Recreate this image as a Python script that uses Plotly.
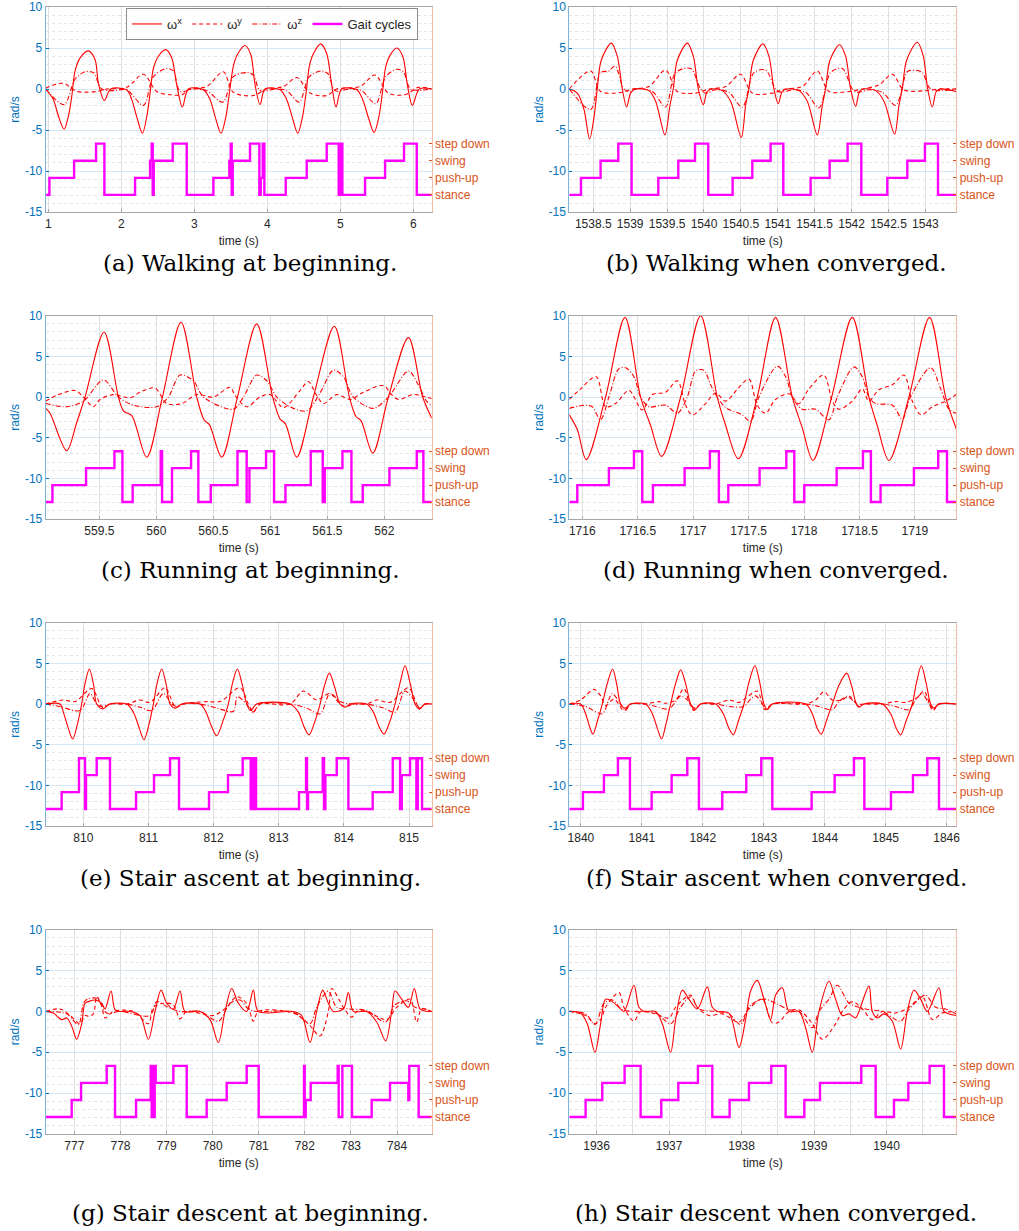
import plotly.graph_objects as go

# ---------------- data ----------------
y_ticks = [-15, -10, -5, 0, 5, 10]
gait_levels = [1, 2, 3, 4]
gait_names = ["stance", "push-up", "swing", "step down"]
captions = ["(a) Walking at beginning.", "(b) Walking when converged.",
            "(c) Running at beginning.", "(d) Running when converged.",
            "(e) Stair ascent at beginning.", "(f) Stair ascent when converged.",
            "(g) Stair descent at beginning.", "(h) Stair descent when converged."]

# (a) walking, beginning
a_t_wx = [0.963, 1.068, 1.137, 1.215, 1.274, 1.320, 1.365, 1.434, 1.548, 1.639, 1.685, 1.767, 1.854, 2.073,
          2.142, 2.210, 2.288, 2.347, 2.393, 2.438, 2.507, 2.607, 2.689, 2.758, 2.836, 2.918, 3.123,
          3.215, 3.288, 3.365, 3.429, 3.479, 3.534, 3.589, 3.694, 3.772, 3.831, 3.900, 3.968, 4.174,
          4.265, 4.342, 4.416, 4.479, 4.530, 4.575, 4.630, 4.731, 4.813, 4.881, 4.941, 5.018, 5.224,
          5.306, 5.384, 5.461, 5.525, 5.575, 5.621, 5.680, 5.772, 5.854, 5.918, 5.986, 6.082, 6.251]
a_wx = [0, -1.3, -3.3, -4.9, -3.3, -0.9, 2.2, 3.8, 4.65, 3.6, 0.7, -1.4, 0, -0.1,
        -1.3, -3.4, -5.4, -3.4, -0.5, 2.5, 4.0, 4.8, 3.8, 0.5, -2.2, 0, -0.1,
        -1.3, -3.5, -5.4, -3.5, -0.5, 2.8, 4.2, 5.3, 4.2, 0.5, -1.9, 0, -0.1,
        -1.3, -3.5, -5.4, -3.5, -0.5, 2.8, 4.3, 5.5, 4.3, 0.5, -2.2, 0, -0.1,
        -1.3, -3.5, -5.3, -3.5, -0.5, 2.7, 4.1, 5.0, 4.0, 0.5, -2.0, 0, 0]
a_t_wy = [0.963, 1.205, 1.388, 1.662, 1.799, 2.073, 2.301, 2.484, 2.667, 2.826, 2.941, 3.169, 3.397, 3.534,
          3.808, 3.991, 4.219, 4.402, 4.584, 4.813, 4.950, 5.269, 5.475, 5.658, 5.886, 6.068, 6.251]
a_wy = [0.1, 0.7, -0.3, -0.3, 0, 0.2, 1.8, -0.3, -0.7, -0.7, 0, 0.3, 2.1, -0.4,
        -0.8, 0, 0.3, 1.4, -0.5, -0.8, 0, 0.3, 1.7, -0.5, -0.7, 0.2, 0]
a_t_wz = [0.963, 1.215, 1.365, 1.502, 1.616, 1.731, 1.890, 2.073, 2.301, 2.438, 2.621, 2.712, 2.804, 2.986,
          3.169, 3.388, 3.534, 3.717, 3.808, 3.900, 4.128, 4.265, 4.434, 4.575, 4.744, 4.836, 4.927, 5.132,
          5.292, 5.484, 5.621, 5.772, 5.863, 5.963, 6.251]
a_wz = [0, -1.9, 1.2, 2.1, 2.0, 0, -0.2, -0.1, -2.0, 1.5, 2.5, 2.2, -0.3, 0,
        -0.2, -1.6, 1.5, 2.0, 1.7, -0.2, 0, -0.2, -1.6, 1.5, 2.2, 1.8, -0.2, 0,
        -0.2, -1.8, 1.5, 2.4, 2.1, 0, 0]
a_t_g = [0.963, 1.014, 1.352, 1.653, 1.767, 2.187, 2.393, 2.415, 2.429, 2.443, 2.703, 2.895, 3.260, 3.479,
         3.498, 3.511, 3.525, 3.762, 3.890, 3.909, 3.936, 3.959, 4.251, 4.539, 4.813, 4.977, 4.995, 5.009,
         5.027, 5.338, 5.612, 5.872, 6.046, 6.251]
a_g = [1, 2, 3, 4, 1, 2, 3, 4, 1, 3, 4, 1, 2, 3, 4, 1, 3, 4, 1, 2, 4, 1, 2, 3, 4, 1, 2, 4, 1, 2, 3, 4, 1, 1]
a_xticks = [1, 2, 3, 4, 5, 6]

# (b) walking, converged
b_t_wx = [1538.175, 1538.283, 1538.374, 1538.450, 1538.509, 1538.554, 1538.608, 1538.744, 1538.825, 1538.893,
          1538.952, 1539.006, 1539.074, 1539.254, 1539.345, 1539.471, 1539.539, 1539.584, 1539.638, 1539.774,
          1539.855, 1539.923, 1539.991, 1540.045, 1540.113, 1540.248, 1540.361, 1540.506, 1540.564, 1540.609,
          1540.668, 1540.799, 1540.880, 1540.948, 1541.007, 1541.061, 1541.129, 1541.287, 1541.400, 1541.535,
          1541.603, 1541.648, 1541.707, 1541.838, 1541.919, 1541.987, 1542.055, 1542.109, 1542.168, 1542.326,
          1542.439, 1542.583, 1542.642, 1542.687, 1542.746, 1542.891, 1542.972, 1543.031, 1543.094, 1543.148,
          1543.207, 1543.419]
b_wx = [0, -0.5, -2.5, -6.1, -3.5, 0, 3.5, 5.6, 4.0, 0, -2.2, -0.5, 0,
        -0.2, -1.5, -5.6, -2.0, 0, 3.5, 5.6, 4.0, 0, -1.9, -0.3, 0,
        -0.2, -1.5, -5.9, -2.0, 0, 3.5, 5.5, 4.0, 0, -1.8, -0.3, 0,
        -0.2, -1.5, -5.6, -2.0, 0, 3.5, 5.4, 4.0, 0, -2.1, -0.3, 0,
        -0.2, -1.5, -5.5, -2.0, 0, 3.5, 5.7, 4.0, 0, -2.2, -0.3, 0, -0.3]
b_t_wy = [1538.175, 1538.464, 1538.599, 1538.893, 1539.028, 1539.254, 1539.480, 1539.638, 1539.887, 1540.067,
          1540.293, 1540.497, 1540.655, 1540.926, 1541.106, 1541.332, 1541.535, 1541.694, 1541.965, 1542.145,
          1542.371, 1542.552, 1542.709, 1543.003, 1543.184, 1543.419]
b_wy = [0, 2.2, -0.3, -0.4, 0, 0.3, 2.3, -0.3, -0.5, 0, 0.3, 1.8, -0.5, -0.5, 0, 0.3, 2.2, -0.3, -0.3, 0,
        0.5, 1.8, -0.1, -0.2, 0, 0]
b_t_wz = [1538.175, 1538.464, 1538.599, 1538.712, 1538.794, 1538.916, 1538.983, 1539.074, 1539.300, 1539.480,
          1539.616, 1539.819, 1539.954, 1540.022, 1540.158, 1540.338, 1540.519, 1540.677, 1540.835, 1540.971,
          1541.039, 1541.197, 1541.377, 1541.558, 1541.716, 1541.874, 1542.010, 1542.077, 1542.235, 1542.416,
          1542.597, 1542.755, 1542.845, 1542.958, 1543.071, 1543.419]
b_wz = [0, -2.5, 2.0, 2.2, 2.8, 0, -0.3, 0, -0.3, -2.2, 2.0, 2.5, 0, -0.5, -0.1, -0.4, -2.2, 2.0, 2.3, 0,
        -0.4, -0.1, -0.4, -2.3, 2.0, 2.5, 0, -0.4, -0.1, -0.4, -2.0, 2.1, 2.3, 2.0, 0, 0]
b_t_g = [1538.175, 1538.333, 1538.599, 1538.839, 1539.019, 1539.381, 1539.652, 1539.878, 1540.058, 1540.388,
         1540.655, 1540.903, 1541.075, 1541.445, 1541.703, 1541.946, 1542.132, 1542.484, 1542.755, 1542.994,
         1543.171, 1543.419]
b_g = [1, 2, 3, 4, 1, 2, 3, 4, 1, 2, 3, 4, 1, 2, 3, 4, 1, 2, 3, 4, 1, 1]
b_xticks = [1538.5, 1539, 1539.5, 1540, 1540.5, 1541, 1541.5, 1542, 1542.5, 1543]

# (c) running, beginning
c_t_wx = [559.029, 559.067, 559.213, 559.300, 559.374, 559.541, 559.667, 559.711, 559.784, 559.915,
          560.053, 560.216, 560.354, 560.418, 560.465, 560.573, 560.711, 560.880,
          561.020, 561.085, 561.132, 561.231, 561.377, 561.561, 561.693, 561.751, 561.795, 561.898,
          562.035, 562.211, 562.336, 562.415]
c_wx = [-1.4, -2.0, -6.6, -3.2, 0, 8.0, 0, -1.7, -2.3, -7.4,
        0, 9.2, 0, -2.8, -3.4, -7.4, 0, 9.0,
        0, -2.7, -3.3, -7.4, 0, 8.7, 0, -2.4, -2.9, -6.9,
        0, 7.3, 0, -2.6]
c_t_wy = [559.029, 559.126, 559.287, 559.360, 559.447, 559.506, 559.623, 559.769, 559.857, 559.988,
          560.091, 560.222, 560.354, 560.500, 560.646, 560.690, 560.792, 560.909, 560.997,
          561.114, 561.260, 561.333, 561.406, 561.465, 561.582, 561.699, 561.816, 561.991,
          562.064, 562.123, 562.254, 562.342, 562.415]
c_wy = [-0.5, 0.2, 0.8, 0, -1.2, -0.3, 0.3, -0.1, 0.6, 1.1,
        -0.8, -0.8, 0.3, 0, 1.2, 0.2, -1.2, 0, 0.3,
        -1.3, 0.8, 1.9, 0.2, -0.8, 0.3, -0.3, 0.6, 1.4,
        0.3, -0.3, 0.3, 0.1, -0.2]
c_t_wz = [559.029, 559.213, 559.360, 559.535, 559.667, 559.798,
          560.003, 560.105, 560.208, 560.325, 560.412, 560.675, 560.763, 560.880, 560.968,
          561.056, 561.173, 561.319, 561.436, 561.553, 561.640, 561.728, 561.904,
          562.035, 562.211, 562.298, 562.370, 562.415]
c_wz = [-0.8, -1.2, -0.5, 2.1, 0, -1.0,
        -1.2, 0, 2.7, 2.0, 0, -1.5, 0, 2.7, 2.0,
        0, -1.2, -1.7, 0.5, 3.3, 2.5, 0, -1.4,
        0, 3.2, 1.5, -0.5, -1.0]
c_t_g = [559.029, 559.088, 559.383, 559.632, 559.702, 559.792,
         560.038, 560.050, 560.137, 560.304, 560.368, 560.477, 560.711, 560.792, 560.816, 560.962,
         561.032, 561.132, 561.354, 561.459, 561.477, 561.632, 561.711, 561.810,
         562.044, 562.284, 562.342, 562.415]
c_g = [1, 2, 3, 4, 1, 2, 4, 1, 3, 4, 1, 2, 4, 1, 3, 4, 1, 2, 4, 1, 3, 4, 1, 2, 3, 4, 1, 1]
c_xticks = [559.5, 560, 560.5, 561, 561.5, 562]

# (d) running, converged
d_t_wx = [1715.883, 1715.955, 1716.036, 1716.210, 1716.385, 1716.526, 1716.616, 1716.715, 1716.887, 1717.067,
          1717.217, 1717.293, 1717.407, 1717.578, 1717.743, 1717.894, 1717.984, 1718.080, 1718.249, 1718.435,
          1718.585, 1718.660, 1718.766, 1718.946, 1719.132, 1719.277, 1719.373]
d_wx = [-2.2, -4.0, -7.7, 0, 9.8, 0, -3.5, -7.3, 0, 10.0, 0, -3.5, -7.6, 0, 9.8, 0, -3.8, -7.8, 0, 9.8,
        0, -3.5, -7.8, 0, 9.8, 0, -3.9]
d_t_wy = [1715.883, 1715.985, 1716.126, 1716.210, 1716.301, 1716.421, 1716.541, 1716.631, 1716.752, 1716.857,
          1716.932, 1716.992, 1717.112, 1717.202, 1717.293, 1717.413, 1717.503, 1717.578, 1717.653, 1717.743,
          1717.864, 1717.954, 1718.044, 1718.179, 1718.255, 1718.315, 1718.435, 1718.525, 1718.585, 1718.675,
          1718.796, 1718.901, 1718.976, 1719.057, 1719.156, 1719.277, 1719.373]
d_wy = [-0.3, 1.0, 2.5, -1.2, -0.8, 0.8, -1.6, 0.3, 0.6, 2.0, -1.0, -2.2, -0.8, 0.5, -0.5, 1.2, 2.2, -1.0,
        -2.0, -0.3, 0.4, -0.8, 1.0, 2.7, -0.5, -1.5, -0.5, 1.0, -0.5, 0.9, 1.5, 2.7, -0.5, -2.2, -1.2, -0.5, 0.3]
d_t_wz = [1715.883, 1716.030, 1716.090, 1716.165, 1716.240, 1716.331, 1716.391, 1716.466, 1716.526, 1716.601,
          1716.752, 1716.857, 1716.947, 1717.022, 1717.097, 1717.157, 1717.217, 1717.293, 1717.443, 1717.518,
          1717.593, 1717.759, 1717.834, 1717.894, 1717.984, 1718.104, 1718.224, 1718.300, 1718.450, 1718.525,
          1718.585, 1718.645, 1718.796, 1718.886, 1718.960, 1719.141, 1719.232, 1719.307, 1719.373]
d_wz = [-1.4, -1.0, -1.2, -2.8, 0, 3.5, 3.6, 2.5, 0, -1.2, -1.0, -2.0, 0, 3.2, 3.3, 1.5, 0, -1.3, -2.2, -3.0,
        0, 3.8, 2.5, 0, -1.5, -1.5, -2.8, 0, 3.7, 2.5, 0, -0.8, -1.0, -2.7, 0, 3.6, 1.0, -1.5, -2.0]
d_t_g = [1715.883, 1715.955, 1716.240, 1716.466, 1716.541, 1716.637, 1716.923, 1717.151, 1717.232, 1717.317,
         1717.599, 1717.840, 1717.912, 1718.002, 1718.294, 1718.531, 1718.603, 1718.690, 1718.991, 1719.210,
         1719.289, 1719.373]
d_g = [1, 2, 3, 4, 1, 2, 3, 4, 1, 2, 3, 4, 1, 2, 3, 4, 1, 2, 3, 4, 1, 1]
d_xticks = [1716, 1716.5, 1717, 1717.5, 1718, 1718.5, 1719]

# (e) stair ascent, beginning
e_t_wx = [809.422, 809.642, 809.693, 809.770, 809.836, 809.908, 809.974, 810.026, 810.092, 810.154, 810.205,
          810.297, 810.409, 810.665, 810.768, 810.860, 810.931, 811.008, 811.075, 811.131, 811.203, 811.269,
          811.331, 811.407, 811.510, 811.791, 811.883, 811.970, 812.047, 812.139, 812.226, 812.288, 812.364,
          812.436, 812.508, 812.569, 812.661, 813.173, 813.301, 813.388, 813.465, 813.552, 813.634, 813.700,
          813.777, 813.854, 813.941, 814.018, 814.094, 814.350, 814.453, 814.540, 814.616, 814.703, 814.785,
          814.862, 814.939, 815.016, 815.092, 815.158, 815.246, 815.348]
e_wx = [0, 0, -1.0, -3.0, -4.3, -2.5, 0, 2.5, 4.3, 2.5, 0, -0.6, 0,
        0, -1.0, -3.0, -4.4, -2.5, 0, 2.5, 4.3, 2.5, 0, -0.5, 0,
        0, -1.0, -2.8, -3.9, -2.2, 0, 2.5, 4.3, 2.5, 0, -0.8, 0,
        0, -1.0, -2.8, -3.8, -2.2, 0, 2.2, 3.8, 2.2, 0, -0.4, 0,
        0, -1.0, -2.8, -3.7, -2.2, 0, 2.6, 4.7, 2.6, 0, -0.6, 0, 0]
e_t_wy = [809.422, 809.693, 809.872, 810.128, 810.256, 810.307, 810.409, 810.665, 810.870, 811.024, 811.254,
          811.382, 811.433, 811.535, 811.894, 812.098, 812.405, 812.533, 812.610, 812.713, 813.173, 813.378,
          813.583, 813.787, 813.941, 814.043, 814.146, 814.350, 814.504, 814.709, 814.990, 815.118, 815.158,
          815.246, 815.348]
e_wy = [0, 0.5, 0.3, 1.9, 0, -0.5, 0, 0, 0.5, 0.2, 2.0, 0, -0.4, 0, 0.3, 0.3, 2.0, 0, -0.9, 0, 0, 1.6,
        0.5, 1.3, 0, -0.3, 0, 0, 0.5, 0.2, 2.0, 0, -0.6, 0, 0]
e_t_wz = [809.422, 809.642, 809.949, 810.102, 810.205, 810.281, 810.409, 810.665, 810.870, 811.049, 811.228,
          811.356, 811.433, 811.535, 811.791, 812.047, 812.303, 812.364, 812.508, 812.610, 812.713, 813.173,
          813.429, 813.634, 813.787, 813.941, 814.094, 814.350, 814.606, 814.785, 814.939, 815.118, 815.158,
          815.246, 815.348]
e_wz = [0, -0.3, -0.8, 1.3, 0, -0.3, 0, 0, -0.4, -0.8, 1.3, 0, -0.3, 0, 0, -0.5, -0.9, 0.9, 0, -1.0, 0, 0,
        -0.5, -1.2, 1.3, 0.3, 0, 0, -0.5, -1.0, 1.6, 0, -0.5, 0, 0]
e_t_g = [809.422, 809.667, 809.933, 810.026, 810.041, 810.205, 810.409, 810.809, 811.085, 811.331, 811.469,
         811.929, 812.221, 812.446, 812.569, 812.590, 812.610, 812.631, 812.651, 813.311, 813.419, 813.434,
         813.450, 813.675, 813.695, 813.716, 813.890, 814.069, 814.442, 814.750, 814.862, 814.888, 815.016,
         815.113, 815.134, 815.200, 815.348]
e_g = [1, 2, 4, 1, 3, 4, 1, 2, 3, 4, 1, 2, 3, 4, 1, 4, 1, 4, 1, 2, 4, 1, 2, 4, 1, 3, 4, 1, 2, 4, 1, 3, 4,
       1, 4, 1, 1]
e_xticks = [810, 811, 812, 813, 814, 815]

# (f) stair ascent, converged
f_t_wx = [1839.809, 1839.995, 1840.077, 1840.142, 1840.197, 1840.274, 1840.350, 1840.432, 1840.520, 1840.585,
          1840.651, 1840.722, 1840.815, 1841.061, 1841.171, 1841.253, 1841.324, 1841.400, 1841.471, 1841.553,
          1841.636, 1841.718, 1841.800, 1841.865, 1841.964, 1842.210, 1842.336, 1842.429, 1842.500, 1842.587,
          1842.675, 1842.757, 1842.855, 1842.932, 1843.003, 1843.058, 1843.140, 1843.687, 1843.796, 1843.878,
          1843.944, 1844.031, 1844.124, 1844.234, 1844.360, 1844.442, 1844.518, 1844.562, 1844.644, 1844.945,
          1845.082, 1845.175, 1845.246, 1845.339, 1845.437, 1845.508, 1845.585, 1845.661, 1845.739, 1845.793,
          1845.875, 1846.159]
f_wx = [0, 0, -1.2, -2.8, -3.7, -2.0, 0, 2.5, 4.3, 2.5, 0, -0.5, 0,
        0, -1.2, -3.0, -4.3, -2.3, 0, 2.5, 4.2, 2.5, 0, -0.7, 0,
        0, -1.2, -3.0, -3.8, -2.0, 0, 2.7, 4.7, 2.7, 0, -0.7, 0,
        0, -1.2, -3.0, -3.7, -2.0, 0, 2.3, 3.8, 2.2, 0, -0.4, 0,
        0, -1.2, -3.0, -3.8, -2.0, 0, 2.7, 4.7, 2.7, 0, -0.5, 0, 0]
f_t_wy = [1839.809, 1839.995, 1840.213, 1840.323, 1840.405, 1840.542, 1840.706, 1840.815, 1841.061, 1841.280,
          1841.389, 1841.553, 1841.690, 1841.772, 1841.854, 1841.964, 1842.210, 1842.429, 1842.593, 1842.702,
          1842.894, 1843.019, 1843.140, 1843.687, 1843.851, 1843.988, 1844.124, 1844.288, 1844.398, 1844.535,
          1844.644, 1844.945, 1845.164, 1845.328, 1845.519, 1845.628, 1845.776, 1845.875, 1846.159]
f_wy = [0, 0.5, 1.8, 1.0, -0.2, 0.6, -0.8, 0, 0, 0.3, 0.1, 0.5, 1.9, 0.3, -0.8, 0, 0, 0.5, 0.2, 0.7,
        1.6, -0.7, 0, 0, 0.5, 1.5, 0.5, 0.5, 1.0, 0, 0, 0, 0.3, 0.2, 0.8, 1.6, -0.8, 0, 0]
f_t_wz = [1839.809, 1840.077, 1840.350, 1840.459, 1840.514, 1840.624, 1840.733, 1840.815, 1841.061, 1841.225,
          1841.444, 1841.553, 1841.636, 1841.745, 1841.865, 1841.964, 1842.210, 1842.429, 1842.675, 1842.784,
          1842.866, 1842.976, 1843.041, 1843.140, 1843.687, 1843.906, 1844.124, 1844.234, 1844.371, 1844.480,
          1844.562, 1844.644, 1844.945, 1845.164, 1845.382, 1845.492, 1845.601, 1845.711, 1845.793, 1845.875,
          1846.159]
f_wz = [0, -0.3, -1.2, 0.6, 1.3, 0.3, -0.8, 0, 0, -0.3, -0.6, 0.3, 1.0, 0.5, -0.5, 0, 0, -0.3, -0.3, 0.6,
        1.0, 0, -0.7, 0, 0, -0.3, -0.7, 0.3, 0.9, 0.3, -0.3, 0, 0, -0.3, -0.7, 0.5, 1.3, 0, -0.6, 0, 0]
f_t_g = [1839.809, 1840.033, 1840.377, 1840.607, 1840.804, 1841.160, 1841.488, 1841.745, 1841.936, 1842.319,
         1842.713, 1842.959, 1843.140, 1843.785, 1844.163, 1844.480, 1844.650, 1845.087, 1845.448, 1845.683,
         1845.875, 1846.159]
f_g = [1, 2, 3, 4, 1, 2, 3, 4, 1, 2, 3, 4, 1, 2, 3, 4, 1, 2, 3, 4, 1, 1]
f_xticks = [1840, 1841, 1842, 1843, 1844, 1845, 1846]

# (g) stair descent, beginning
g_t_wx = [776.378, 776.545, 776.725, 776.834, 776.942, 777.051, 777.159, 777.231, 777.304, 777.448, 777.593,
          777.665, 777.795, 777.882, 777.991, 778.207, 778.424, 778.605, 778.750, 778.880, 779.003, 779.147,
          779.292, 779.400, 779.726, 779.943, 780.123, 780.268, 780.413, 780.557, 780.738, 780.883, 780.991,
          781.750, 781.931, 782.112, 782.256, 782.386, 782.509, 782.618, 782.835, 782.943, 783.052, 783.341,
          783.558, 783.753, 783.883, 783.955, 784.100, 784.244, 784.374, 784.497, 784.642, 784.751]
g_wx = [0, -0.2, -1.0, -0.8, -1.8, -3.4, -1.5, 1.0, 1.2, 1.4, 1.0, 0.3, 2.5, 0.2, 0, 0, -0.5, -3.4, 0, 2.6,
        1.0, 0.3, 2.5, 0, 0, -1.0, -3.8, 0, 2.8, 1.0, 0, 2.6, 0, 0, -0.5, -3.8, 0, 2.6, 1.0, 0, 0.3, 2.3, 0,
        0, -1.3, -3.6, 0, 2.5, 1.5, 0.5, 2.8, 0.3, 0, 0]
g_t_wy = [776.378, 776.689, 776.906, 777.123, 777.231, 777.304, 777.412, 777.484, 777.593, 777.665, 777.846,
          778.280, 778.605, 778.714, 778.930, 779.147, 779.292, 779.437, 780.015, 780.304, 780.521, 780.738,
          780.883, 780.991, 781.750, 782.075, 782.328, 782.509, 782.582, 782.835, 783.015, 783.124, 783.341,
          783.775, 783.991, 784.281, 784.425, 784.533, 784.751]
g_wy = [0, 0.3, -0.5, -1.5, -0.5, -0.6, -0.3, 1.8, 0.7, -0.8, 0, 0, -1.5, 0.5, 1.0, 0.8, -0.9, 0, -0.5,
        0.5, 1.8, 1.0, -1.2, 0, -0.2, -1.5, -3.0, 0, 2.8, 0.5, -0.7, 0, 0, -1.0, 0.5, 1.5, -1.3, 0.3, 0]
g_t_wz = [776.378, 776.834, 777.087, 777.231, 777.484, 777.701, 777.991, 778.641, 778.786, 779.003, 779.292,
          779.726, 780.123, 780.376, 780.593, 780.774, 780.955, 781.750, 782.112, 782.256, 782.509, 782.690,
          782.979, 783.341, 783.753, 783.955, 784.208, 784.389, 784.606, 784.751]
g_wz = [0, -0.3, -1.6, 1.3, 1.6, -0.2, 0, -0.5, 1.2, 0.6, 0, 0, -1.2, 1.0, 1.4, 0.3, 0, -0.1, -1.5, 0.5,
        2.5, 0.5, 0.3, 0.1, -1.3, 0.8, 1.3, 0.5, 0.3, 0]
g_t_g = [776.378, 776.942, 777.145, 777.701, 777.882, 778.338, 778.656, 778.677, 778.699, 778.721, 778.742,
         778.764, 779.147, 779.437, 779.870, 780.304, 780.738, 780.998, 781.981, 781.996, 782.018, 782.126,
         782.712, 782.733, 782.813, 783.022, 783.449, 783.847, 784.244, 784.265, 784.468, 784.751]
g_g = [1, 2, 3, 4, 1, 2, 4, 1, 4, 1, 4, 3, 4, 1, 2, 3, 4, 1, 4, 1, 2, 3, 4, 1, 4, 1, 2, 3, 2, 4, 1, 1]
g_xticks = [777, 778, 779, 780, 781, 782, 783, 784]

# (h) stair descent, converged
h_t_wx = [1935.623, 1935.779, 1935.871, 1935.977, 1936.055, 1936.124, 1936.216, 1936.308, 1936.377, 1936.515,
          1936.584, 1936.653, 1936.814, 1936.906, 1937.021, 1937.090, 1937.182, 1937.274, 1937.389, 1937.527,
          1937.596, 1937.665, 1937.826, 1937.964, 1938.056, 1938.125, 1938.217, 1938.309, 1938.401, 1938.470,
          1938.562, 1938.654, 1938.792, 1938.884, 1938.976, 1939.068, 1939.206, 1939.298, 1939.390, 1939.482,
          1939.574, 1939.620, 1939.758, 1939.804, 1939.873, 1939.965, 1940.080, 1940.195, 1940.287, 1940.379,
          1940.471, 1940.563, 1940.724, 1940.793, 1940.963]
h_wx = [0, -0.2, -1.5, -5.0, -1.5, 1.5, 1.2, 0.5, 0, 3.2, 0.5, 0, 0, -1.5, -5.0, -1.0, 2.6, 1.5, 0.3, 3.0,
        0.5, 0, -0.2, -4.4, -1.0, 2.5, 3.8, 1.5, -1.0, 2.0, 2.9, 0, 0, -2.0, -5.0, 0, 3.7, 1.5, -0.5, -0.3,
        -0.8, 0, 3.1, 0, -0.8, -0.3, -1.2, -4.6, 0, 2.6, 1.5, 0, 2.9, 0, -0.5]
h_t_wy = [1935.623, 1935.848, 1935.977, 1936.055, 1936.124, 1936.308, 1936.377, 1936.515, 1936.607, 1936.814,
          1936.998, 1937.090, 1937.297, 1937.389, 1937.550, 1937.734, 1937.964, 1938.102, 1938.286, 1938.424,
          1938.516, 1938.654, 1938.792, 1938.976, 1939.114, 1939.298, 1939.390, 1939.528, 1939.666, 1939.804,
          1939.942, 1940.126, 1940.310, 1940.494, 1940.632, 1940.770, 1940.963]
h_wy = [0, -0.5, -1.5, -1.0, 0.5, 2.3, 0.5, -1.2, 0, -0.3, -0.8, 0.5, 2.0, 0.5, -0.5, -0.3, -1.3, 0.3, 1.5,
        -1.4, -1.3, 0, 0.2, -1.5, -3.4, -1.5, 0, 1.2, 0.3, -1.0, 0, -0.2, 0.5, 1.8, -1.0, -0.2, 0]
h_t_wz = [1935.623, 1935.848, 1935.977, 1936.101, 1936.216, 1936.354, 1936.538, 1936.814, 1937.021, 1937.159,
          1937.297, 1937.412, 1937.642, 1937.826, 1937.987, 1938.102, 1938.217, 1938.332, 1938.470, 1938.654,
          1938.792, 1938.976, 1939.068, 1939.206, 1939.321, 1939.482, 1939.620, 1939.758, 1939.942, 1940.195,
          1940.287, 1940.448, 1940.540, 1940.678, 1940.816, 1940.963]
h_wz = [0, -0.3, -1.6, 1.0, 1.4, 0.2, 0, -0.2, -1.5, 0.5, 1.8, 0.3, 0, -0.3, -1.6, 0.5, 1.3, 1.5, 1.0, 0.2,
        0, -2.0, 0, 1.5, 3.2, 1.0, 0.5, 0.2, 0, -1.2, 0, 1.5, 2.0, 0.5, 0.3, -0.3]
h_t_g = [1935.623, 1935.848, 1936.078, 1936.386, 1936.607, 1936.892, 1937.127, 1937.398, 1937.596, 1937.835,
         1938.102, 1938.410, 1938.608, 1938.866, 1939.082, 1939.652, 1939.850, 1940.103, 1940.301, 1940.595,
         1940.793, 1940.963]
h_g = [1, 2, 3, 4, 1, 2, 3, 4, 1, 2, 3, 4, 1, 2, 3, 4, 1, 2, 3, 4, 1, 1]
h_xticks = [1936, 1937, 1938, 1939, 1940]

# ---------------- figure ----------------
W, H = 1019, 1231
RED = "#FF0000"
MAG = "#FF00FF"
BLUE = "#0072BD"
ORANGE = "#D95319"
TXT = "#262626"
SANS = "Liberation Sans, Arial, sans-serif"
SERIF = "DejaVu Serif, serif"

panels = [
    (a_t_wx, a_wx, a_t_wy, a_wy, a_t_wz, a_wz, a_t_g, a_g, a_xticks, [0.963, 6.251], None),
    (b_t_wx, b_wx, b_t_wy, b_wy, b_t_wz, b_wz, b_t_g, b_g, b_xticks, [1538.175, 1543.419], None),
    (c_t_wx, c_wx, c_t_wy, c_wy, c_t_wz, c_wz, c_t_g, c_g, c_xticks, [559.029, 562.415], None),
    (d_t_wx, d_wx, d_t_wy, d_wy, d_t_wz, d_wz, d_t_g, d_g, d_xticks, [1715.883, 1719.373], None),
    (e_t_wx, e_wx, e_t_wy, e_wy, e_t_wz, e_wz, e_t_g, e_g, e_xticks, [809.422, 815.348], None),
    (f_t_wx, f_wx, f_t_wy, f_wy, f_t_wz, f_wz, f_t_g, f_g, f_xticks, [1839.809, 1846.159], None),
    (g_t_wx, g_wx, g_t_wy, g_wy, g_t_wz, g_wz, g_t_g, g_g, g_xticks, [776.378, 784.751], None),
    (h_t_wx, h_wx, h_t_wy, h_wy, h_t_wz, h_wz, h_t_g, h_g, h_xticks, [1935.623, 1940.963], 0.5),
]

col_px = [(45.7, 431.7), (569.3, 956.3)]
row_px = [(7.0, 212.0), (315.7, 519.0), (622.7, 826.0), (929.7, 1134.0)]
cap_y_px = [263, 570, 878, 1213]
cap_x_px = [250, 776]


def aid(prefix, n):
    return prefix if n == 1 else f"{prefix}{n}"


fig = go.Figure()
layout = {}
annotations = []

for p, (tx, wx, ty, wy, tz, wz, tg, gg, xt, xr, minor_dx) in enumerate(panels):
    r, c = divmod(p, 2)
    xn, yl, yr = p + 1, 2 * p + 1, 2 * p + 2
    xref, ylref, yrref = aid("x", xn), aid("y", yl), aid("y", yr)
    show = p == 0

    fig.add_trace(go.Scatter(x=tx, y=wx, mode="lines", name="ω<sup>x</sup>",
                             line=dict(color=RED, width=1.1, shape="spline", smoothing=0.9),
                             xaxis=xref, yaxis=ylref, showlegend=show, hoverinfo="skip"))
    fig.add_trace(go.Scatter(x=ty, y=wy, mode="lines", name="ω<sup>y</sup>",
                             line=dict(color=RED, width=1.1, shape="spline", smoothing=0.9, dash="4px,3px"),
                             xaxis=xref, yaxis=ylref, showlegend=show, hoverinfo="skip"))
    fig.add_trace(go.Scatter(x=tz, y=wz, mode="lines", name="ω<sup>z</sup>",
                             line=dict(color=RED, width=1.1, shape="spline", smoothing=0.9,
                                       dash="5px,2px,1px,2px"),
                             xaxis=xref, yaxis=ylref, showlegend=show, hoverinfo="skip"))
    fig.add_trace(go.Scatter(x=tg, y=gg, mode="lines", name="Gait cycles",
                             line=dict(color=MAG, width=2.4, shape="hv"),
                             xaxis=xref, yaxis=yrref, showlegend=show, hoverinfo="skip"))

    x0, x1 = col_px[c]
    top, bot = row_px[r]
    xdom = [x0 / W, x1 / W]
    ydom = [1 - bot / H, 1 - top / H]

    xa = dict(domain=xdom, anchor=ylref, range=xr, tickmode="array", tickvals=xt,
              ticktext=[f"{v:g}" for v in xt], showgrid=True, gridcolor="#dfdfdf", gridwidth=1,
              zeroline=False, showline=True, linecolor="#a6a6a6", linewidth=1.2, mirror=True,
              ticks="inside", ticklen=3, tickcolor="#a6a6a6",
              tickfont=dict(family=SANS, size=12, color=TXT),
              title=dict(text="time (s)", font=dict(family=SANS, size=12, color=TXT), standoff=7))
    if minor_dx:
        xa["minor"] = dict(dtick=minor_dx, showgrid=True, gridcolor="#dfdfdf", ticks="")
    layout[f"xaxis{'' if xn == 1 else xn}"] = xa

    layout[f"yaxis{'' if yl == 1 else yl}"] = dict(
        domain=ydom, anchor=xref, range=[-15, 10], tickmode="array", tickvals=y_ticks,
        ticktext=[str(v) for v in y_ticks], showgrid=True, gridcolor="#d8e6f2", gridwidth=1,
        zeroline=False, showline=True, linecolor="#7fb3dc", linewidth=1,
        ticks="inside", ticklen=3, tickcolor=BLUE,
        tickfont=dict(family=SANS, size=12, color=BLUE),
        minor=dict(dtick=1, showgrid=True, gridcolor="#e4e4e4", griddash="dot", ticks=""),
        title=dict(text="rad/s", font=dict(family=SANS, size=12, color=BLUE), standoff=2))

    layout[f"yaxis{yr}"] = dict(
        domain=ydom, anchor=xref, overlaying=ylref, side="right", range=[0, 12],
        tickmode="array", tickvals=gait_levels, ticktext=gait_names, showgrid=False,
        zeroline=False, showline=True, linecolor="#f4bca3", linewidth=1,
        ticks="inside", ticklen=3, tickcolor=ORANGE,
        tickfont=dict(family=SANS, size=12, color=ORANGE))

    annotations.append(dict(text=captions[p], x=cap_x_px[c] / W, y=1 - cap_y_px[r] / H,
                            xref="paper", yref="paper", xanchor="center", yanchor="middle",
                            showarrow=False, font=dict(family=SERIF, size=23, color="black")))

fig.update_layout(
    width=W, height=H, margin=dict(l=0, r=0, t=0, b=0, autoexpand=False),
    paper_bgcolor="white", plot_bgcolor="white",
    annotations=annotations,
    legend=dict(x=126 / W, y=1 - 8 / H, xanchor="left", yanchor="top", orientation="h",
                bgcolor="white", bordercolor="#8c8c8c", borderwidth=1, itemwidth=30,
                font=dict(family=SANS, size=13, color=TXT), tracegroupgap=0),
    **layout,
)

fig.write_html("out.html", config={"displayModeBar": False},
               post_script="document.body.style.margin='0px';document.body.style.padding='0px';"
                           "document.body.style.overflow='hidden';")
